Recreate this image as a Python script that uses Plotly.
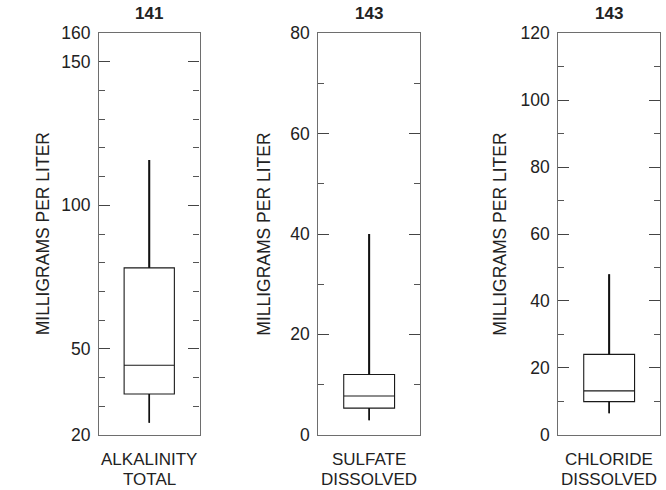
import plotly.graph_objects as go

# ---- data ----
names_line1 = ["ALKALINITY", "SULFATE", "CHLORIDE"]
names_line2 = ["TOTAL", "DISSOLVED", "DISSOLVED"]
counts = ["141", "143", "143"]
lower_whisker = [24.2, 2.9, 6.4]
q1_vals = [34.2, 5.3, 9.9]
median_vals = [44.2, 7.7, 13.1]
q3_vals = [78.2, 12.0, 24.0]
upper_whisker = [115.8, 40.0, 48.0]
y_ranges = [[20, 160], [0, 80], [0, 120]]
major_ticks = [[20, 50, 100, 150, 160], [0, 20, 40, 60, 80], [0, 20, 40, 60, 80, 100, 120]]
minor_ticks = [[30, 40, 60, 70, 80, 90, 110, 120, 130, 140],
               [10, 30, 50, 70],
               [10, 30, 50, 70, 90, 110]]
y_title = "MILLIGRAMS PER LITER"

W, H = 666, 490
x_px = [(99, 199.5), (318.3, 420), (558.3, 660)]
y_top, y_bot = 33.3, 434.7
ytitle_x = [43.3, 263.7, 499.7]

FONT = "Liberation Sans, Arial, sans-serif"
TXT = "#222222"
fig = go.Figure()
layout = dict(template="none", width=W, height=H, margin=dict(l=0, r=0, t=0, b=0, pad=0),
              paper_bgcolor="white", plot_bgcolor="white", showlegend=False,
              font=dict(family=FONT, color=TXT, size=16))
annotations = []
for i in range(3):
    xa = "x" if i == 0 else f"x{i+1}"
    ya = "y" if i == 0 else f"y{i+1}"
    fig.add_trace(go.Box(
        x=[0], q1=[q1_vals[i]], median=[median_vals[i]], q3=[q3_vals[i]],
        lowerfence=[lower_whisker[i]], upperfence=[upper_whisker[i]],
        width=1, whiskerwidth=0, fillcolor="white",
        line=dict(color="#1a1a1a", width=1.1), boxpoints=False,
        xaxis=xa, yaxis=ya, hoverinfo="skip"))
    fig.add_trace(go.Scatter(x=[0, 0], y=[q3_vals[i], upper_whisker[i]], mode="lines",
                             line=dict(color="#111111", width=2), xaxis=xa, yaxis=ya,
                             hoverinfo="skip"))
    fig.add_trace(go.Scatter(x=[0, 0], y=[lower_whisker[i], q1_vals[i]], mode="lines",
                             line=dict(color="#111111", width=1.6), xaxis=xa, yaxis=ya,
                             hoverinfo="skip"))
    dom_x = [x_px[i][0] / W, x_px[i][1] / W]
    dom_y = [1 - y_bot / H, 1 - y_top / H]
    layout["xaxis" + ("" if i == 0 else str(i + 1))] = dict(
        domain=dom_x, range=[-1, 1], anchor=ya, showgrid=False, zeroline=False,
        showticklabels=False, ticks="", showline=True, mirror=True, automargin=False,
        linecolor="#6e6e6e", linewidth=1.2, fixedrange=True)
    layout["yaxis" + ("" if i == 0 else str(i + 1))] = dict(
        domain=dom_y, range=y_ranges[i], anchor=xa, showgrid=False, zeroline=False,
        automargin=False,
        tickmode="array", tickvals=major_ticks[i], ticktext=[str(v) for v in major_ticks[i]],
        ticks="inside", ticklen=11, tickwidth=1.1, tickcolor="#444444",
        minor=dict(tickvals=minor_ticks[i], ticks="inside", ticklen=6, tickwidth=1.1,
                   tickcolor="#555555", showgrid=False),
        showline=True, mirror="ticks", linecolor="#6e6e6e", linewidth=1.2,
        ticklabelstandoff=4,
        tickfont=dict(family=FONT, size=17.5, color=TXT), fixedrange=True)
    cx = (x_px[i][0] + x_px[i][1]) / 2 / W
    annotations.append(dict(text="<b>" + counts[i] + "</b>", x=cx, y=1 - 13.5 / H,
                            xref="paper", yref="paper", showarrow=False,
                            font=dict(family=FONT, size=17, color=TXT),
                            xanchor="center", yanchor="middle"))
    annotations.append(dict(text=names_line1[i], x=cx, y=1 - 459.0 / H, xref="paper",
                            yref="paper", showarrow=False,
                            font=dict(family=FONT, size=17, color=TXT),
                            xanchor="center", yanchor="middle"))
    annotations.append(dict(text=names_line2[i], x=cx, y=1 - 479.0 / H, xref="paper",
                            yref="paper", showarrow=False,
                            font=dict(family=FONT, size=17, color=TXT),
                            xanchor="center", yanchor="middle"))
    annotations.append(dict(text=y_title, x=ytitle_x[i] / W, y=1 - (y_top + y_bot) / 2 / H,
                            xref="paper", yref="paper", showarrow=False, textangle=-90,
                            font=dict(family=FONT, size=17.5, color=TXT),
                            xanchor="center", yanchor="middle"))
layout["annotations"] = annotations
fig.update_layout(**layout)
fig.write_html("out.html", config={"displayModeBar": False},
               post_script="document.body.style.margin='0';document.body.style.overflow='hidden';")
